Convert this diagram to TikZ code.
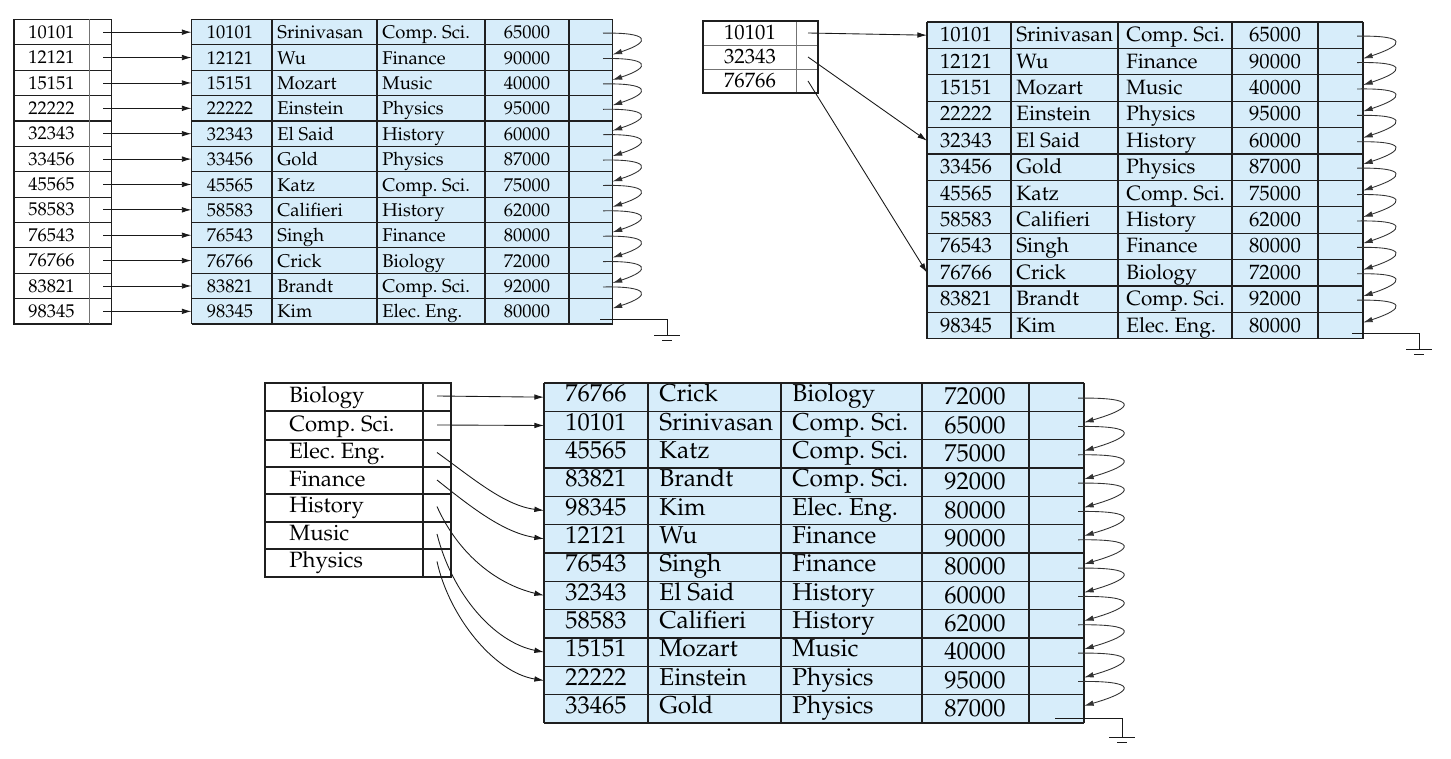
\documentclass[tikz,border=0pt]{standalone}
\usepackage[T1]{fontenc}
\usepackage{mathpazo}
\usetikzlibrary{arrows.meta}
\definecolor{recblue}{RGB}{215,237,250}
% one record: node name, y, ID, name, dept, salary
\newcommand{\rec}[6]{%
  \node[idtext] (#1) at (\cA,#2+\dT) {#3};
  \node[nametext] (#1-n) at (\cB,#2+\dT) {#4};
  \node[nametext] (#1-d) at (\cC,#2+\dT) {#5};
  \node[idtext] (#1-s) at (\cD,#2+\dS) {#6};
  \coordinate (#1-w) at (\cL,#2);
  \coordinate (#1-p) at (\cP,#2+1);
  \coordinate (#1-e) at (\cR,#2-3);
}
% one index entry: [style] node name, y, key
\newcommand{\ent}[4][idtext]{\node[#1] (#2) at (\iX,#3) {#4}; \coordinate (#2-p) at (\iP,#3);}
\def\ground(#1){\draw[wire] (#1) ++(-13,0) -- ++(26,0); \draw[wire] (#1) ++(-5,5.5) -- ++(10,0);}

\begin{document}
\begin{tikzpicture}[x=0.02cm, y=-0.02cm,
  grid/.style={line width=0.65pt, draw=black!88},
  sep/.style={line width=0.5pt, draw=black!55},
  wire/.style={line width=0.5pt, draw=black!90},
  idtext/.style={inner sep=0pt, text height=0.69em, text depth=0pt},
  nametext/.style={idtext, anchor=west},
  ptr/.style={wire, -{Latex[length=5.5pt, width=3.2pt]}},
  chainarrow/.style={line width=0.5pt, draw=black!80, -{Latex[length=5.5pt, width=3.2pt]}}]

\useasboundingbox (0,0) rectangle (1451,759);

%%%%% TOP LEFT %%%%%
\begin{scope}[every node/.append style={font=\fontsize{10.5}{12.5}\selectfont}]
\def\cL{191.5}\def\cA{230}\def\cB{277}\def\cC{382}\def\cD{527}\def\cP{603}\def\cR{612.5}\def\dT{0.5}\def\dS{0.5}
\def\iX{51.5}\def\iP{103}
\fill[recblue] (191.5,19.5) rectangle (612.5,324);
\rec{tl1}{32.19}{10101}{Srinivasan}{Comp.\ Sci.}{65000}
\rec{tl2}{57.57}{12121}{Wu}{Finance}{90000}
\rec{tl3}{82.95}{15151}{Mozart}{Music}{40000}
\rec{tl4}{108.33}{22222}{Einstein}{Physics}{95000}
\rec{tl5}{133.71}{32343}{El Said}{History}{60000}
\rec{tl6}{159.09}{33456}{Gold}{Physics}{87000}
\rec{tl7}{184.47}{45565}{Katz}{Comp.\ Sci.}{75000}
\rec{tl8}{209.85}{58583}{Califieri}{History}{62000}
\rec{tl9}{235.23}{76543}{Singh}{Finance}{80000}
\rec{tl10}{260.61}{76766}{Crick}{Biology}{72000}
\rec{tl11}{285.99}{83821}{Brandt}{Comp.\ Sci.}{92000}
\rec{tl12}{311.37}{98345}{Kim}{Elec.\ Eng.}{80000}
\foreach \i in {0,...,12} \draw[grid] (191.5,19.5+25.38*\i) -- (612.5,19.5+25.38*\i);
\foreach \x in {191.5,272,377,485,569,612.5} \draw[grid] (\x,19.5) -- (\x,324);

\ent{tli1}{32.19}{10101}
\ent{tli2}{57.57}{12121}
\ent{tli3}{82.95}{15151}
\ent{tli4}{108.33}{22222}
\ent{tli5}{133.71}{32343}
\ent{tli6}{159.09}{33456}
\ent{tli7}{184.47}{45565}
\ent{tli8}{209.85}{58583}
\ent{tli9}{235.23}{76543}
\ent{tli10}{260.61}{76766}
\ent{tli11}{285.99}{83821}
\ent{tli12}{311.37}{98345}
\foreach \i in {1,...,11} \draw[grid] (14,19.5+25.38*\i) -- (111.5,19.5+25.38*\i);
\draw[grid] (14,19.5) rectangle (111.5,324);
\draw[sep] (89,19.5) -- (89,324);

\foreach \i in {1,...,12} \draw[ptr] (tli\i-p) -- (tl\i-w);
\foreach \i [count=\j from 2] in {1,...,11} \draw[chainarrow] (tl\i-p) .. controls +(46,-1) and +(40,-13) .. (tl\j-e);
\coordinate (tl-g) at (600,319.5);
\coordinate (tl-gnd) at (667,335);
\draw[wire] (tl-g) -| (tl-gnd);
\ground(tl-gnd)
\end{scope}

%%%%% TOP RIGHT %%%%%
\begin{scope}[every node/.append style={font=\fontsize{11.8}{14}\selectfont}]
\def\cL{927}\def\cA{966}\def\cB{1016}\def\cC{1126}\def\cD{1275}\def\cP{1357}\def\cR{1363}\def\dT{0.5}\def\dS{0.5}
\def\iX{750}\def\iP{808}
\fill[recblue] (927,22) rectangle (1363,338.8);
\rec{tr1}{35.2}{10101}{Srinivasan}{Comp.\ Sci.}{65000}
\rec{tr2}{61.6}{12121}{Wu}{Finance}{90000}
\rec{tr3}{88}{15151}{Mozart}{Music}{40000}
\rec{tr4}{114.4}{22222}{Einstein}{Physics}{95000}
\rec{tr5}{140.8}{32343}{El Said}{History}{60000}
\rec{tr6}{167.2}{33456}{Gold}{Physics}{87000}
\rec{tr7}{193.6}{45565}{Katz}{Comp.\ Sci.}{75000}
\rec{tr8}{220}{58583}{Califieri}{History}{62000}
\rec{tr9}{246.4}{76543}{Singh}{Finance}{80000}
\rec{tr10}{272.8}{76766}{Crick}{Biology}{72000}
\rec{tr11}{299.2}{83821}{Brandt}{Comp.\ Sci.}{92000}
\rec{tr12}{325.6}{98345}{Kim}{Elec.\ Eng.}{80000}
\foreach \i in {0,...,12} \draw[grid] (927,22+26.4*\i) -- (1363,22+26.4*\i);
\foreach \x in {927,1011,1118,1232,1318,1363} \draw[grid] (\x,22) -- (\x,338.8);

\ent{tri1}{33}{10101}
\ent{tri2}{57}{32343}
\ent{tri3}{81}{76766}
\draw[sep] (703,45) -- (818,45);
\draw[sep] (703,69) -- (818,69);
\draw[sep] (796,21) -- (796,93);
\draw[grid] (703,21) rectangle (818,93);

\draw[ptr] (tri1-p) -- (tr1-w);
\draw[ptr] (tri2-p) -- (tr5-w);
\draw[ptr] (tri3-p) -- (tr10-w);
\foreach \i [count=\j from 2] in {1,...,11} \draw[chainarrow] (tr\i-p) .. controls +(50,-1) and +(43,-14) .. (tr\j-e);
\coordinate (tr-g) at (1352,333.5);
\coordinate (tr-gnd) at (1419,349);
\draw[wire] (tr-g) -| (tr-gnd);
\ground(tr-gnd)
\end{scope}

%%%%% BOTTOM %%%%%
\begin{scope}[every node/.append style={font=\fontsize{13.9}{16}\selectfont}]
\def\cL{544}\def\cA{596}\def\cB{659}\def\cC{792}\def\cD{975}\def\cP{1078}\def\cR{1084}\def\dT{-1.5}\def\dS{1.5}
\fill[recblue] (544,383) rectangle (1084,723);
\rec{b1}{397.17}{76766}{Crick}{Biology}{72000}
\rec{b2}{425.5}{10101}{Srinivasan}{Comp.\ Sci.}{65000}
\rec{b3}{453.83}{45565}{Katz}{Comp.\ Sci.}{75000}
\rec{b4}{482.17}{83821}{Brandt}{Comp.\ Sci.}{92000}
\rec{b5}{510.5}{98345}{Kim}{Elec.\ Eng.}{80000}
\rec{b6}{538.83}{12121}{Wu}{Finance}{90000}
\rec{b7}{567.17}{76543}{Singh}{Finance}{80000}
\rec{b8}{595.5}{32343}{El Said}{History}{60000}
\rec{b9}{623.83}{58583}{Califieri}{History}{62000}
\rec{b10}{652.17}{15151}{Mozart}{Music}{40000}
\rec{b11}{680.5}{22222}{Einstein}{Physics}{95000}
\rec{b12}{708.83}{33465}{Gold}{Physics}{87000}
\foreach \i in {0,...,12} \draw[grid] (544,383+28.333*\i) -- (1084,383+28.333*\i);
\foreach \x in {544,648,781,922,1029,1084} \draw[grid] (\x,383) -- (\x,723);
\end{scope}

\begin{scope}[every node/.append style={font=\fontsize{12.6}{15}\selectfont}]
\def\iX{289}\def\iP{437}
\ent[nametext]{bbio}{396}{Biology}
\ent[nametext]{bcomp}{425}{Comp.\ Sci.}
\ent[nametext]{bele}{452.5}{Elec.\ Eng.}
\ent[nametext]{bfin}{480}{Finance}
\ent[nametext]{bhis}{506.5}{History}
\ent[nametext]{bmus}{534}{Music}
\ent[nametext]{bphy}{561.5}{Physics}
\foreach \y in {411,440,467,494,522,549} \draw[grid] (265,\y) -- (451,\y);
\draw[grid] (423,383) -- (423,577);
\draw[grid] (265,383) rectangle (451,577);
\end{scope}

\draw[ptr] (bbio-p) -- (b1-w);
\draw[ptr] (bcomp-p) -- (b2-w);
\draw[ptr] (bele-p) .. controls +(35,25) and +(-40,-5) .. (b5-w);
\draw[ptr] (bfin-p) .. controls +(35,28) and +(-40,-6) .. (b6-w);
\draw[ptr] (bhis-p) .. controls +(20,45) and +(-50,-12) .. (b8-w);
\draw[ptr] (bmus-p) .. controls +(15,60) and +(-50,-10) .. (b10-w);
\draw[ptr] (bphy-p) .. controls +(12,55) and +(-50,-8) .. (b11-w);
\foreach \i [count=\j from 2] in {1,...,11} \draw[chainarrow] (b\i-p) .. controls +(60,-1) and +(52,-15) .. (b\j-e);
\coordinate (b-g) at (1055,718);
\coordinate (b-gnd) at (1122,737);
\draw[wire] (b-g) -| (b-gnd);
\ground(b-gnd)

\end{tikzpicture}
\end{document}
